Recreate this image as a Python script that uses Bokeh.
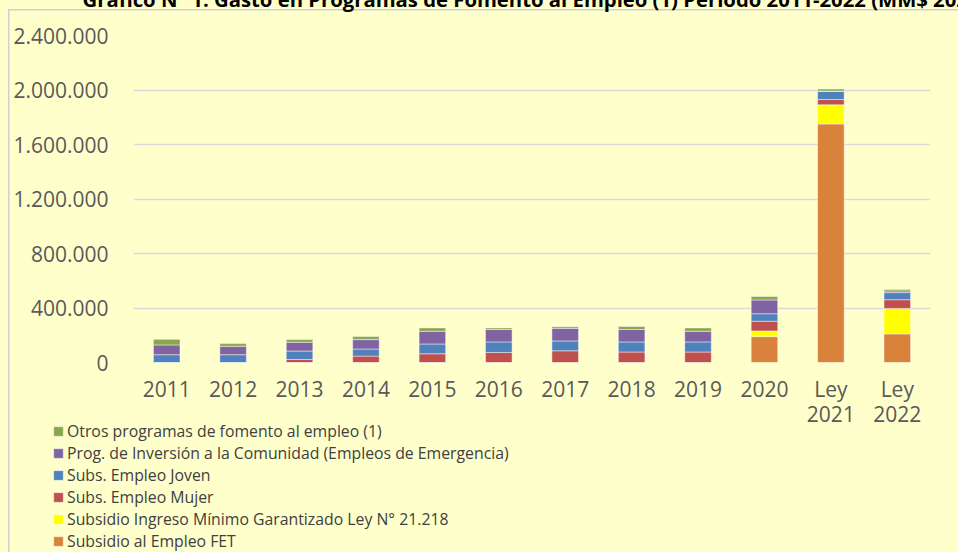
from bokeh.plotting import figure
from bokeh.layouts import column
from bokeh.models import (FactorRange, FixedTicker, CustomJSTickFormatter, Legend,
                          LegendItem)
from bokeh.embed import file_html
from bokeh.resources import INLINE

# ---- data (MM$) ----
categories = ["2011", "2012", "2013", "2014", "2015", "2016", "2017", "2018",
              "2019", "2020", "Ley\n2021", "Ley\n2022"]
fet = [0, 0, 0, 0, 0, 0, 0, 0, 0, 190000, 1751000, 210000]
ingreso_minimo = [0, 0, 0, 0, 0, 0, 0, 0, 0, 42000, 140000, 187000]
empleo_mujer = [0, 0, 22000, 47000, 64000, 74000, 86000, 77000, 77000, 71000, 39000, 64000]
empleo_joven = [57000, 57000, 62000, 52000, 72000, 77000, 72000, 74000, 74000, 55000, 59000, 52000]
inversion_comunidad = [72000, 62000, 64000, 69000, 93000, 91000, 93000, 91000, 78000, 101000, 3000, 12000]
otros = [41000, 20000, 20000, 22000, 25000, 12000, 12000, 22000, 25000, 25000, 15000, 10000]

series_keys = ["fet", "ingreso_minimo", "empleo_mujer", "empleo_joven",
               "inversion_comunidad", "otros"]
series_labels = ["Subsidio al Empleo FET",
                 "Subsidio Ingreso Mínimo Garantizado Ley N° 21.218",
                 "Subs. Empleo Mujer",
                 "Subs. Empleo Joven",
                 "Prog. de Inversión a la Comunidad (Empleos de Emergencia)",
                 "Otros programas de fomento al empleo (1)"]
colors = ["#D9823B", "#FFFF00", "#C0504D", "#4F81BD", "#8064A2", "#8BA64F"]
y_ticks = [0, 400000, 800000, 1200000, 1600000, 2000000, 2400000]
title_text = "Gráfico N° 1: Gasto en Programas de Fomento al Empleo (1) Período 2011-2022 (MM$ 2022)"

source = dict(x=categories, fet=fet, ingreso_minimo=ingreso_minimo,
              empleo_mujer=empleo_mujer, empleo_joven=empleo_joven,
              inversion_comunidad=inversion_comunidad, otros=otros)

BG = "#FFFFCC"
FONT = "Open Sans"
BAR_STYLE = dict(width=0.4, fill_color=colors, line_color="#ffffff",
                 line_alpha=0.45, line_width=1)

# ---------------- main chart ----------------
p = figure(x_range=FactorRange(*categories), y_range=(0, 2400000),
           width=966, height=475, output_backend="svg", toolbar_location=None,
           min_border_left=141, min_border_right=28, min_border_top=0,
           min_border_bottom=72, title=title_text)
p.frame_align = False
p.background_fill_color = BG
p.border_fill_alpha = 0
p.outline_line_color = None

p.title.text_font = FONT
p.title.text_font_style = "bold"
p.title.text_font_size = "20.3px"
p.title.text_color = "#000000"
p.title.align = "left"
p.title.offset = -51
p.title.standoff = 46

renderers = p.vbar_stack(series_keys, x="x", source=source, **BAR_STYLE)

p.yaxis.ticker = FixedTicker(ticks=y_ticks)
p.yaxis.formatter = CustomJSTickFormatter(
    code="return tick.toFixed(0).replace(/\\B(?=(\\d{3})+(?!\\d))/g, '.');")
for ax in (p.xaxis[0], p.yaxis[0]):
    ax.axis_line_color = None
    ax.major_tick_line_color = None
    ax.minor_tick_line_color = None
    ax.major_tick_out = 0
    ax.major_tick_in = 0
    ax.major_label_text_font = FONT
    ax.major_label_text_font_size = "21px"
    ax.major_label_text_color = "#595959"
p.yaxis.major_label_standoff = 25
p.xaxis.major_label_standoff = 12
p.xaxis.major_label_text_line_height = 0.92

p.xgrid.grid_line_color = None
p.ygrid.grid_line_color = "#D9D9D9"
p.ygrid.grid_line_width = 1.7

# ---------------- legend strip ----------------
q = figure(x_range=FactorRange(*categories), width=966, height=136,
           output_backend="svg", toolbar_location=None,
           x_axis_location=None, y_axis_location=None, min_border=0)
q.frame_align = False
q.styles = {"margin-top": "-18px"}
q.background_fill_alpha = 0
q.border_fill_alpha = 0
q.outline_line_color = None
q.grid.grid_line_color = None
legend_renderers = q.vbar_stack(series_keys, x="x", source=source, **BAR_STYLE)
for r in legend_renderers:
    r.visible = False

items = [LegendItem(label=lbl, renderers=[r])
         for lbl, r in zip(series_labels[::-1], legend_renderers[::-1])]
legend = Legend(items=items, location=(60, 0), orientation="vertical",
                border_line_alpha=0, background_fill_alpha=0,
                inactive_fill_alpha=0,
                glyph_width=12, glyph_height=12, label_height=21,
                label_standoff=3, spacing=0, padding=0, margin=0,
                label_text_font=FONT, label_text_font_size="15.8px",
                label_text_color="#404040")
q.add_layout(legend, "center")

layout = column(p, q, spacing=0)
layout.styles = {
    "margin-top": "-41px", "margin-left": "-8px",
    "background": ("linear-gradient(#D0D0D0, #D0D0D0) 16px 50px / 1.5px 100% no-repeat, "
                   "linear-gradient(#D0D0D0, #D0D0D0) 16px 50px / 100% 1.5px no-repeat, "
                   + BG),
}

open("out.html", "w").write(file_html(layout, INLINE))
